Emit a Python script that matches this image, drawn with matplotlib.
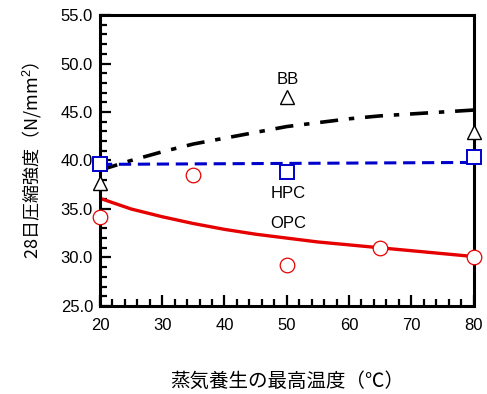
import matplotlib
matplotlib.use("Agg")
import matplotlib.pyplot as plt
from matplotlib.ticker import MultipleLocator, FormatStrFormatter

plt.rcParams["font.family"] = ["Liberation Sans", "Noto Sans CJK JP", "DejaVu Sans"]
plt.rcParams["mathtext.fontset"] = "custom"
plt.rcParams["mathtext.rm"] = "Liberation Sans"

# measured 28-day strengths
opc_temp = [20, 35, 50, 65, 80]
opc_strength = [34.2, 38.5, 29.2, 31.0, 30.0]
hpc_temp = [20, 50, 80]
hpc_strength = [39.6, 38.8, 40.4]
bb_temp = [20, 50, 80]
bb_strength = [37.7, 46.5, 42.9]

# trend curves
curve_temp = [20, 25, 30, 35, 40, 45, 50, 55, 60, 65, 70, 75, 80]
opc_curve = [36.1, 35.0, 34.2, 33.5, 32.9, 32.4, 32.0, 31.6, 31.3, 31.0, 30.7, 30.4, 30.1]
bb_curve = [39.0, 40.0, 40.9, 41.7, 42.3, 42.9, 43.5, 43.9, 44.3, 44.6, 44.8, 45.0, 45.2]
hpc_curve_temp = [20, 80]
hpc_curve = [39.6, 39.8]

fig = plt.figure(figsize=(4.87, 3.94), dpi=100)
ax = fig.add_axes([0.2053, 0.2234, 0.7670, 0.7385])

ax.plot(curve_temp, opc_curve, color="#e60000", lw=2.4, zorder=2)
ax.plot(curve_temp, bb_curve, color="black", lw=2.6, dashes=(5, 3, 1.5, 3), zorder=2)
ax.plot(hpc_curve_temp, hpc_curve, color="#0000cc", lw=2.2, dashes=(4, 2.2), zorder=2)

ax.plot(opc_temp, opc_strength, "o", ms=10.5, mfc="white", mec="#e60000", mew=0.9,
        clip_on=False, zorder=5)
ax.plot(hpc_temp, hpc_strength, "s", ms=10.5, mfc="white", mec="#0000cc", mew=1.4,
        clip_on=False, zorder=5)
ax.plot(bb_temp, bb_strength, "^", ms=10, mfc="white", mec="black", mew=1.0,
        clip_on=False, zorder=5)

ax.text(50.2, 48.3, "BB", ha="center", va="center", fontsize=12)
ax.text(50.3, 36.6, "HPC", ha="center", va="center", fontsize=12)
ax.text(50.3, 33.5, "OPC", ha="center", va="center", fontsize=12)

ax.set_xlim(20, 80)
ax.set_ylim(25, 55)
ax.xaxis.set_major_locator(MultipleLocator(10))
ax.xaxis.set_minor_locator(MultipleLocator(2))
ax.yaxis.set_major_locator(MultipleLocator(5))
ax.yaxis.set_minor_locator(MultipleLocator(1))
ax.yaxis.set_major_formatter(FormatStrFormatter("%.1f"))

ax.tick_params(which="both", direction="in", width=1.6, labelsize=12, colors="black")
ax.tick_params(which="major", length=8)
ax.tick_params(which="minor", length=5)
ax.tick_params(axis="x", pad=9)
ax.tick_params(axis="y", pad=5)
for side in ("left", "right", "top", "bottom"):
    ax.spines[side].set_linewidth(2.2)

ax.set_xlabel("蒸気養生の最高温度（℃）", fontsize=14,
              family=["Noto Sans CJK JP", "DejaVu Sans"], labelpad=27)
ax.set_ylabel("28日圧縮強度（N/mm$^2$）", fontsize=13,
              family=["Noto Sans CJK JP", "DejaVu Sans"], labelpad=12)

fig.savefig("out.png", dpi=100)
